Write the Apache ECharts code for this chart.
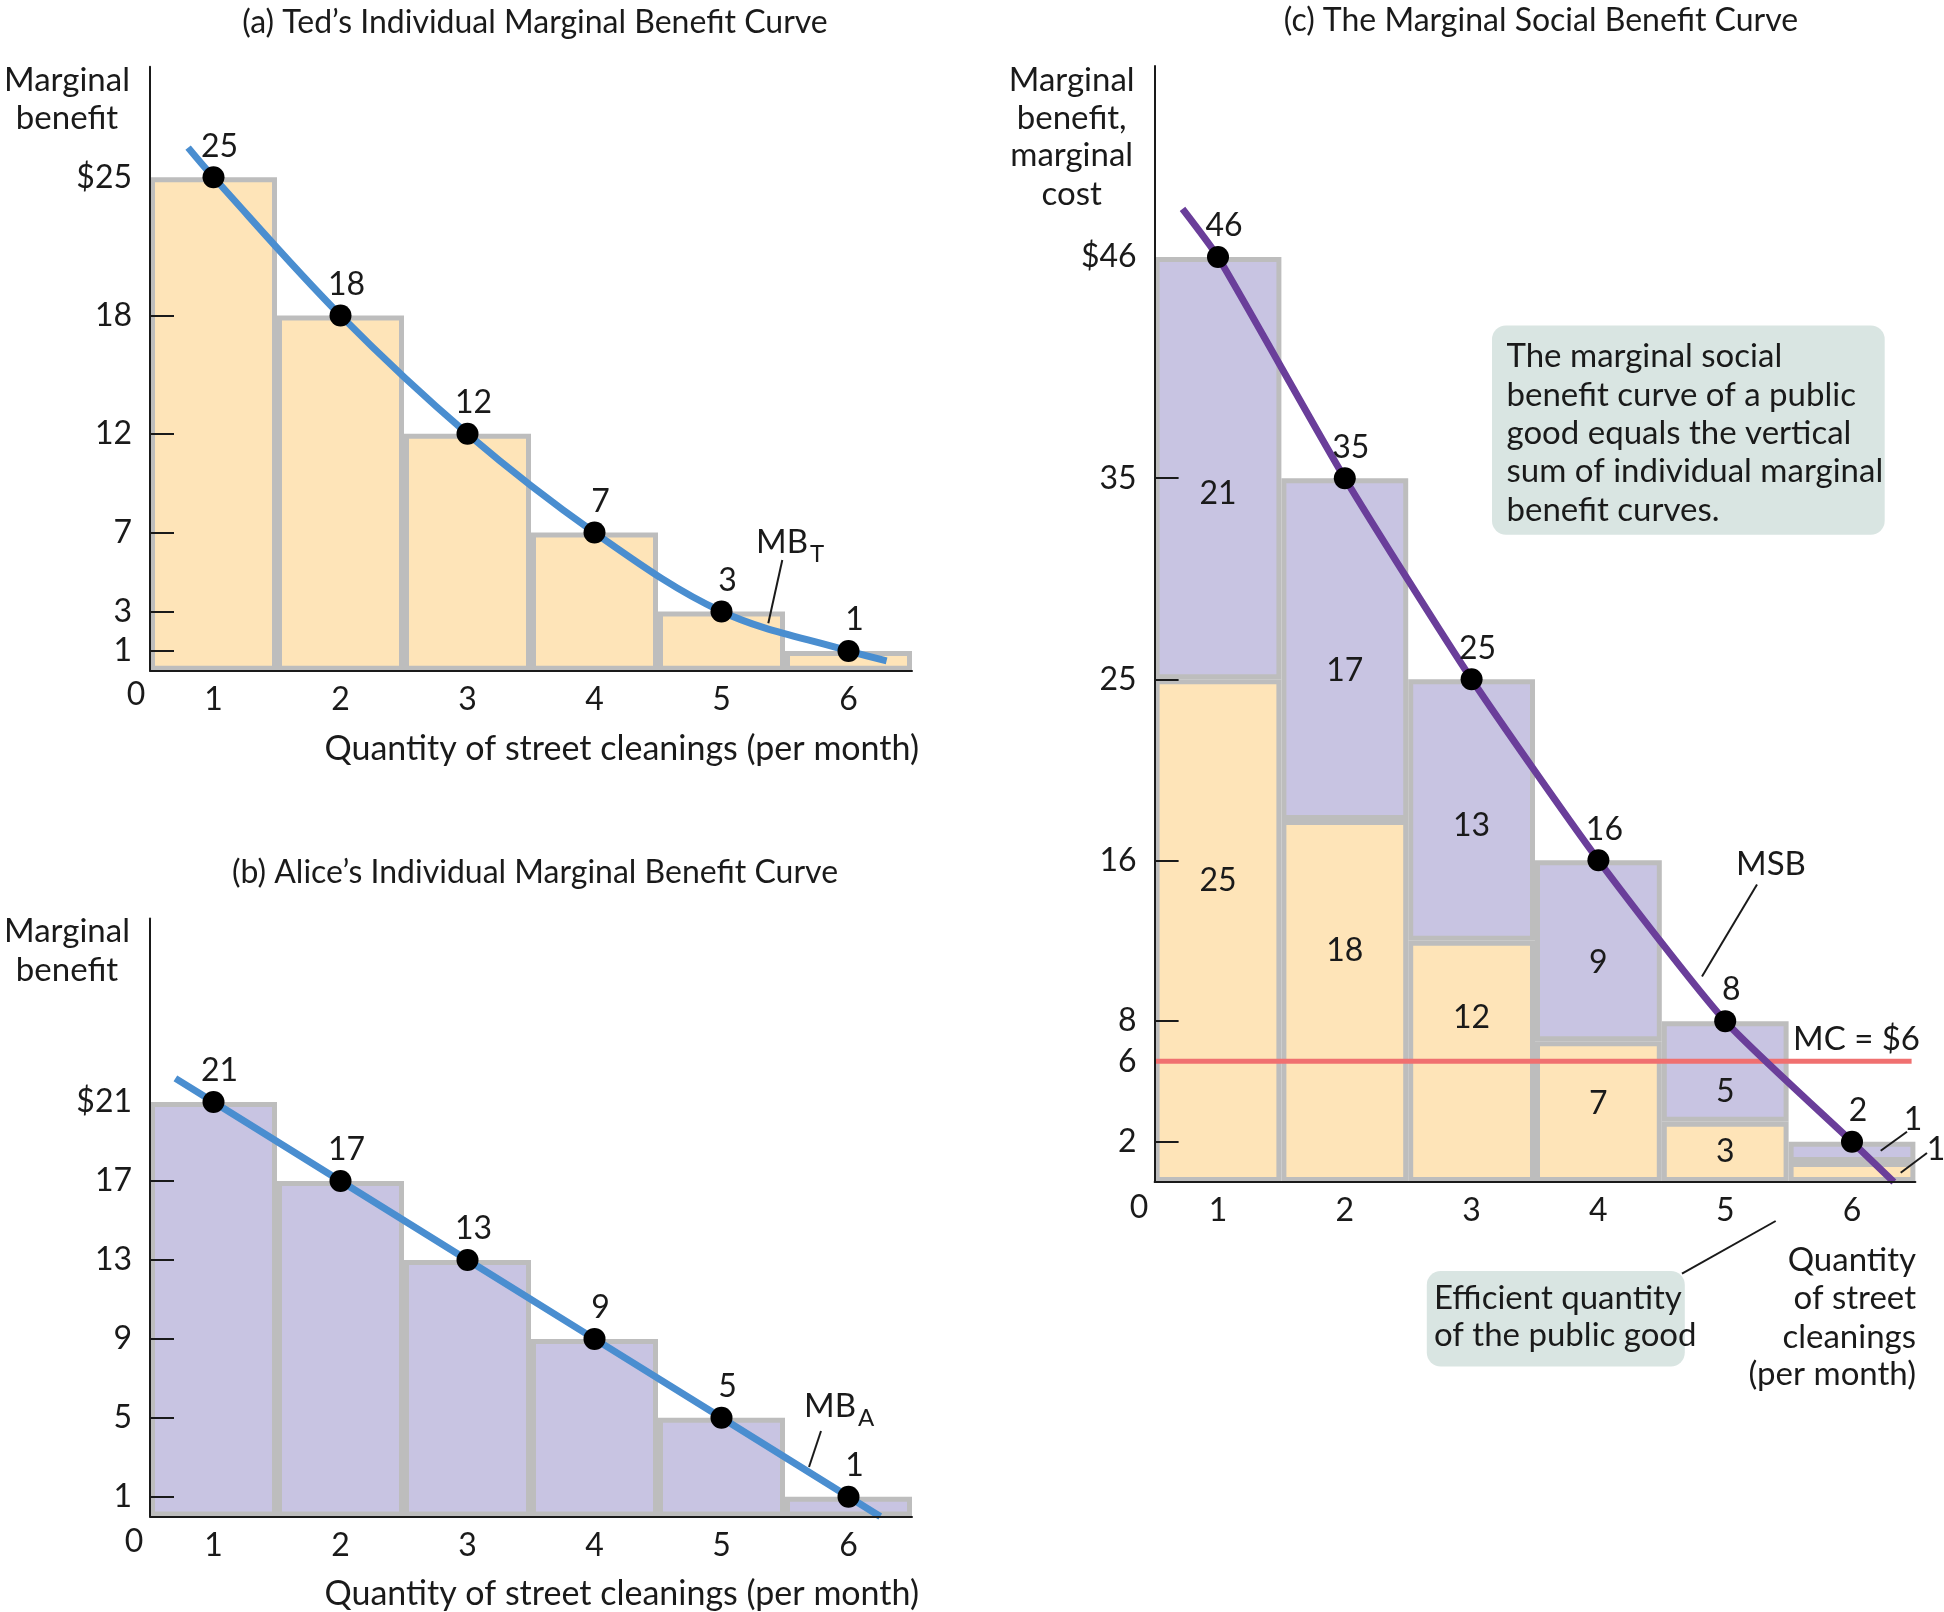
<!DOCTYPE html>
<html>
<head>
<meta charset="utf-8">
<script src="https://cdn.jsdelivr.net/npm/echarts@6/dist/echarts.min.js"></script>
<style>
  html, body { margin: 0; padding: 0; background: #fff; }
  #chart { width: 1944px; height: 1612px; }
</style>
</head>
<body>
<div id="chart"></div>
<script>
// street cleanings per month and the marginal benefit of each one
const quantities = [1, 2, 3, 4, 5, 6];
const tedBenefit = [25, 18, 12, 7, 3, 1];
const aliceBenefit = [21, 17, 13, 9, 5, 1];
const socialBenefit = [46, 35, 25, 16, 8, 2];
const marginalCost = 6;

// the drawn curves run a little past the first and last points
const tedCurveEnds = [[0.8, 26.5], [6.3, 0.5]];
const aliceCurveEnds = [[0.7, 22.2], [6.25, 0]];
const msbCurveEnds = [[0.72, 48.4], [6.33, 0]];

// tick labels on the vertical axes
const tedTicks = [1, 3, 7, 12, 18, 25];
const aliceTicks = [1, 5, 9, 13, 17, 21];
const socialTicks = [2, 6, 8, 16, 25, 35, 46];

const FONT = "Lato";
const INK = "#1a1a1a";
const PEACH = "#fee4b8";
const LAVENDER = "#c8c4e2";
const EDGE = "#bdbdbd";
const BLUE = "#4a8ed0";
const PURPLE = "#6a3e9a";
const RED = "#f07070";

// nudges for the numbers written inside the stacked bars (px, up is negative)
const tedInsideNudge = [-50, -50, -44, -8, 0, 0];
const aliceInsideNudge = [26, 22, 16, 12, 20, 0];

const pts = (ys) => quantities.map((q, i) => [q, ys[i]]);
const withEnds = (ys, ends) => [ends[0], ...pts(ys), ends[1]];

function xAxisFor(gridIndex) {
  return {
    type: "value", gridIndex, min: 0.5, max: 6.5, z: 6,
    axisLine: { lineStyle: { color: INK, width: 2 } },
    axisTick: { show: false },
    splitLine: { show: false },
    axisLabel: { customValues: quantities, color: INK, fontSize: 32, fontFamily: FONT, margin: 13 },
  };
}

function yAxisFor(gridIndex, max, ticks, hideTicks) {
  const top = ticks[ticks.length - 1];
  return {
    type: "value", gridIndex, min: 0, max, z: 6,
    axisLine: { show: true, lineStyle: { color: INK, width: 2 } },
    axisTick: {
      show: true, inside: true, length: 24,
      customValues: ticks.filter((t) => !hideTicks.includes(t)),
      lineStyle: { color: INK, width: 2 },
    },
    splitLine: { show: false },
    axisLabel: {
      customValues: ticks, color: INK, fontSize: 32, fontFamily: FONT, margin: 18,
      formatter: (v) => (v === top ? "$" + v : String(v)),
    },
  };
}

function barSeries(idx, values, color, extra) {
  return Object.assign({
    type: "bar", xAxisIndex: idx, yAxisIndex: idx, z: 2,
    barWidth: 127,
    data: pts(values),
    itemStyle: { color, borderColor: EDGE, borderWidth: 5 },
    emphasis: { disabled: true },
  }, extra || {});
}

function curveSeries(idx, values, ends, color, smooth) {
  return {
    type: "line", xAxisIndex: idx, yAxisIndex: idx, z: 4,
    data: withEnds(values, ends), smooth, symbol: "none",
    lineStyle: { color, width: 7 },
  };
}

function dotSeries(idx, values) {
  return {
    type: "scatter", xAxisIndex: idx, yAxisIndex: idx, z: 5,
    data: pts(values), symbolSize: 22,
    itemStyle: { color: "#000", opacity: 1 },
    emphasis: { disabled: true },
    label: {
      show: true, position: "top", distance: 4, offset: [6, 0],
      formatter: (p) => String(p.value[1]),
      color: INK, fontSize: 32, fontFamily: FONT, textBorderWidth: 0,
    },
  };
}

const insideLabel = {
  show: true, position: "inside", color: INK, fontSize: 32, fontFamily: FONT, textBorderWidth: 0,
};
function stackedInside(values, nudge) {
  return values.map((v, i) => ({
    value: v,
    label: { show: i < 5, offset: [0, nudge[i]] },
  }));
}

// text helpers for the annotations
function text(x, y, str, size, align) {
  return {
    type: "text", x, y, z: 10,
    style: { text: str, fontSize: size || 33, fontFamily: FONT, fill: INK, align: align || "center", verticalAlign: "middle" },
  };
}
function lead(x1, y1, x2, y2) {
  return { type: "line", z: 10, shape: { x1, y1, x2, y2 }, style: { stroke: INK, lineWidth: 2 } };
}
function box(x, y, w, h) {
  return { type: "rect", z: 1, shape: { x, y, width: w, height: h, r: 14 }, style: { fill: "#d9e5e2" } };
}
function lines(x, ys, strs, align) {
  return strs.map((s, i) => text(x, ys[i], s, 33, align));
}

const titleStyle = { color: INK, fontSize: 32, fontWeight: "normal", fontFamily: FONT };

const option = {
  animation: false,
  backgroundColor: "#fff",
  title: [
    { text: "(a) Ted\u2019s Individual Marginal Benefit Curve", left: 530, top: 2, textAlign: "center", textStyle: titleStyle },
    { text: "(b) Alice\u2019s Individual Marginal Benefit Curve", left: 530, top: 852, textAlign: "center", textStyle: titleStyle },
    { text: "(c) The Marginal Social Benefit Curve", left: 1536, top: 0, textAlign: "center", textStyle: titleStyle },
  ],
  grid: [
    { left: 150, top: 66.7, width: 762, height: 604, containLabel: false, outerBoundsMode: "none" },
    { left: 150, top: 918.5, width: 762, height: 598, containLabel: false, outerBoundsMode: "none" },
    { left: 1154.6, top: 66, width: 760.8, height: 1116, containLabel: false, outerBoundsMode: "none" },
  ],
  xAxis: [
    xAxisFor(0), xAxisFor(1), xAxisFor(2),
    // hidden category axis so the two benefit bars in (c) can stack
    {
      type: "category", gridIndex: 2, data: quantities, boundaryGap: true,
      axisLine: { show: false }, axisTick: { show: false }, axisLabel: { show: false }, splitLine: { show: false },
    },
  ],
  yAxis: [
    yAxisFor(0, 30.6, tedTicks, [25]),
    yAxisFor(1, 30.3, aliceTicks, [21]),
    yAxisFor(2, 55.5, socialTicks, [46, 6]),
  ],
  series: [
    // (a) Ted
    barSeries(0, tedBenefit, PEACH),
    curveSeries(0, tedBenefit, tedCurveEnds, BLUE, 0.35),
    dotSeries(0, tedBenefit),
    // (b) Alice
    barSeries(1, aliceBenefit, LAVENDER),
    curveSeries(1, aliceBenefit, aliceCurveEnds, BLUE, false),
    dotSeries(1, aliceBenefit),
    // (c) vertical sum of the two
    barSeries(3, tedBenefit, PEACH, {
      yAxisIndex: 2, stack: "sum", barWidth: 126.8,
      data: stackedInside(tedBenefit, tedInsideNudge), label: insideLabel,
    }),
    barSeries(3, aliceBenefit, LAVENDER, {
      yAxisIndex: 2, stack: "sum", barWidth: 126.8,
      data: stackedInside(aliceBenefit, aliceInsideNudge), label: insideLabel,
    }),
    {
      type: "line", xAxisIndex: 2, yAxisIndex: 2, z: 3, symbol: "none",
      data: [[0.5, marginalCost], [6.47, marginalCost]],
      lineStyle: { color: RED, width: 5 },
    },
    curveSeries(2, socialBenefit, msbCurveEnds, PURPLE, 0.2),
    dotSeries(2, socialBenefit),
  ],
  graphic: [
    // (a)
    ...lines(67, [80, 118], ["Marginal", "benefit"]),
    text(136, 695, "0", 32),
    text(919, 749, "Quantity of street cleanings (per month)", 34, "right"),
    text(808, 542, "MB", 33, "right"),
    text(810, 554, "T", 24, "left"),
    lead(782.3, 560, 768.3, 623.3),
    // (b)
    ...lines(67, [931.6, 970], ["Marginal", "benefit"]),
    text(134, 1542, "0", 32),
    text(919, 1594, "Quantity of street cleanings (per month)", 34, "right"),
    text(856, 1406, "MB", 33, "right"),
    text(858, 1418, "A", 24, "left"),
    lead(821, 1431, 809, 1467),
    // (c)
    ...lines(1071.7, [80, 118, 155, 194], ["Marginal", "benefit,", "marginal", "cost"]),
    text(1139, 1208, "0", 32),
    ...lines(1916, [1260.7, 1298, 1337, 1374.4], ["Quantity", "of street", "cleanings", "(per month)"], "right"),
    text(1771, 864, "MSB"),
    lead(1757, 884.5, 1702, 976.5),
    text(1793, 1039, "MC = $6", 33, "left"),
    text(1913, 1120, "1", 32),
    lead(1907, 1131.7, 1880.7, 1150.7),
    text(1936, 1150, "1", 32),
    lead(1927, 1153, 1900.7, 1172.7),
    box(1492, 325.5, 392.7, 209.3),
    ...lines(1506.5, [356.5, 395, 433, 471, 510.5], [
      "The marginal social",
      "benefit curve of a public",
      "good equals the vertical",
      "sum of individual marginal",
      "benefit curves.",
    ], "left"),
    box(1426.8, 1271, 258, 95.6),
    ...lines(1434, [1298, 1335.6], ["Efficient quantity", "of the public good"], "left"),
    lead(1682, 1273.6, 1775.7, 1221),
  ],
};

const chart = echarts.init(document.getElementById("chart"));
chart.setOption(option);
</script>
</body>
</html>
